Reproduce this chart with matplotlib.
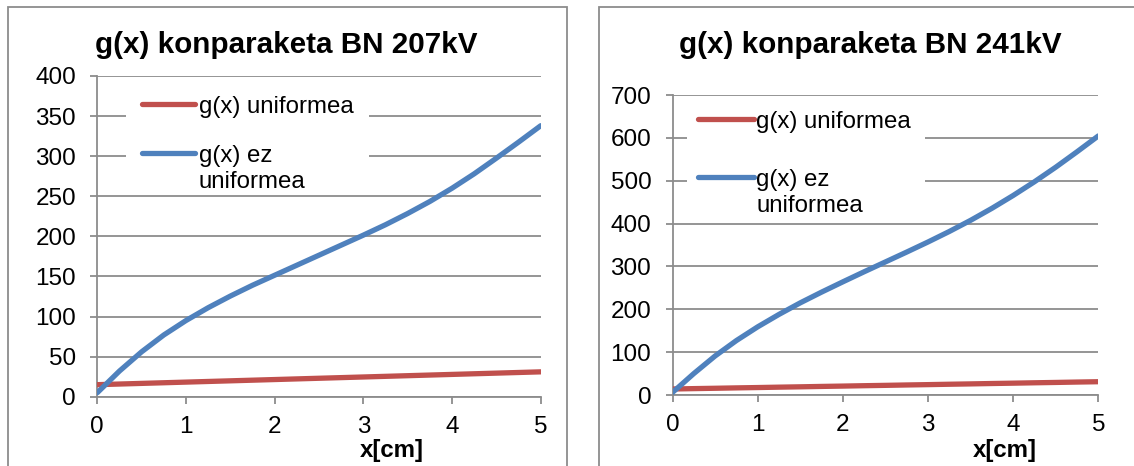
import matplotlib.pyplot as plt
from matplotlib.patches import Rectangle
from matplotlib.lines import Line2D

plt.rcParams['font.family'] = ['Liberation Sans', 'DejaVu Sans']

# data
x_vals = [0, 0.25, 0.5, 0.75, 1, 1.25, 1.5, 1.75, 2, 2.25, 2.5,
          2.75, 3, 3.25, 3.5, 3.75, 4, 4.25, 4.5, 4.75, 5]

left_title = 'g(x) konparaketa BN 207kV'
left_uniform = [15, 15.8, 16.6, 17.4, 18.2, 19, 19.8, 20.6, 21.4, 22.2, 23,
                23.8, 24.6, 25.4, 26.2, 27, 27.8, 28.6, 29.4, 30.2, 31]
left_nonuniform = [5, 32, 56, 77, 95, 111, 125.5, 139, 151.5, 164, 176.5,
                   189, 201.5, 214.5, 228.5, 243.5, 260, 278, 297.5, 317.5, 338]

right_title = 'g(x) konparaketa BN 241kV'
right_uniform = [14, 14.9, 15.7, 16.6, 17.4, 18.3, 19.1, 20, 20.8, 21.7, 22.5,
                 23.4, 24.2, 25.1, 25.9, 26.8, 27.6, 28.5, 29.3, 30.2, 31]
right_nonuniform = [6, 50, 91, 127, 159, 188, 215, 240, 264, 287.5, 310.5,
                    333.5, 357, 381.5, 407.5, 435.5, 465.5, 497.5, 531.5,
                    567.5, 604.5]

series_names = ['g(x) uniformea', 'g(x) ez\nuniformea']
red = '#C0504D'
blue = '#4F81BD'
grid_col = '#8C8C8C'

W, H = 1134, 466
fig = plt.figure(figsize=(W / 100, H / 100), dpi=100)


def fx(px):
    return px / W


def fy(py):
    return 1 - py / H


# chart area borders
fig.patches.append(Rectangle((fx(8), -0.1), fx(566.5 - 8), 1.1 - 7 / H,
                             transform=fig.transFigure, fill=False,
                             edgecolor=grid_col, linewidth=1.3))
fig.patches.append(Rectangle((fx(599), -0.1), 0.5, 1.1 - 7 / H,
                             transform=fig.transFigure, fill=False,
                             edgecolor=grid_col, linewidth=1.3))


def make_chart(box, title, y_u, y_n, ymax, ystep, title_xy, xlabel_xy, leg):
    x0, x1, ytop, ybot = box
    ax = fig.add_axes([fx(x0), fy(ybot), fx(x1 - x0), (ybot - ytop) / H])
    ax.plot(x_vals, y_u, color=red, linewidth=3.8, solid_capstyle='round',
            solid_joinstyle='round', zorder=3)
    ax.plot(x_vals, y_n, color=blue, linewidth=3.8, solid_capstyle='round',
            solid_joinstyle='round', zorder=3)
    ax.set_xlim(0, 5)
    ax.set_ylim(0, ymax)
    ax.set_yticks(range(0, ymax + 1, ystep))
    ax.set_xticks(range(0, 6))
    ax.grid(axis='y', color=grid_col, linewidth=1.3)
    ax.set_axisbelow(True)
    for s in ['top', 'right']:
        ax.spines[s].set_visible(False)
    for s in ['left', 'bottom']:
        ax.spines[s].set_color(grid_col)
        ax.spines[s].set_linewidth(1.3)
    ax.tick_params(axis='both', colors=grid_col, labelcolor='black',
                   labelsize=17.5, width=1.3, length=4.8)
    ax.tick_params(axis='x', pad=9)
    ax.tick_params(axis='y', pad=10.5)
    fig.text(fx(title_xy[0]), fy(title_xy[1]), title, fontsize=21.3,
             fontweight='bold', ha='center', va='center')
    fig.text(fx(xlabel_xy[0]), fy(xlabel_xy[1]), 'x[cm]', fontsize=17.3,
             fontweight='bold', ha='center', va='center')

    # legend (Excel style: line sample next to first text line, white box)
    bx0, bx1, by0, by1, hx0, hx1, tx, hy, gap = leg
    ax.add_patch(Rectangle((fx(bx0), fy(by1)), fx(bx1 - bx0), (by1 - by0) / H,
                           transform=fig.transFigure, facecolor='white',
                           edgecolor='none', clip_on=False, zorder=2))
    for name, col, y in zip(series_names, [red, blue], hy):
        ax.add_line(Line2D([fx(hx0), fx(hx1)], [fy(y), fy(y)],
                           transform=fig.transFigure, color=col,
                           linewidth=3.8, solid_capstyle='round',
                           clip_on=False, zorder=4))
        for i, part in enumerate(name.split('\n')):
            fig.text(fx(tx), fy(y + 8.5 + i * gap), part, fontsize=17.3,
                     ha='left', va='baseline')
    return ax


make_chart((97.3, 540.7, 76, 396.7), left_title, left_uniform,
           left_nonuniform, 400, 50, (286, 45), (392, 451),
           (125.7, 369, 85, 192, 141.7, 195, 199, (104.3, 153.3), 26.6))
make_chart((672.5, 1098.3, 95, 395), right_title, right_uniform,
           right_nonuniform, 700, 100, (870, 45), (1005, 451),
           (686.7, 925, 100, 215, 698, 754, 756, (119.3, 177.3), 26.6))

fig.savefig('out.png', dpi=100)
